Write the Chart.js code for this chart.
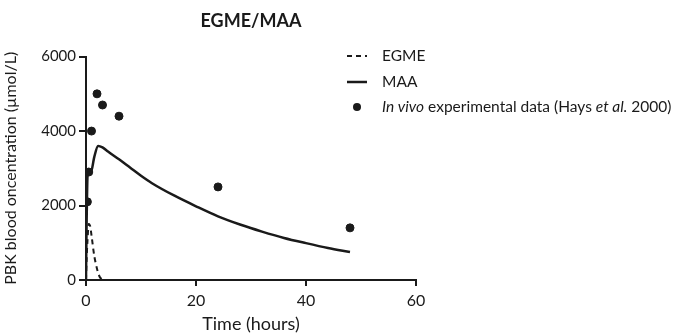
<!DOCTYPE html>
<html>
<head>
<meta charset="utf-8">
<script src="https://cdn.jsdelivr.net/npm/chart.js@4"></script>
<style>
    html, body { margin: 0; padding: 0; background: #fff; }
    #wrap { width: 673px; height: 335px; position: relative; }
</style>
</head>
<body>
<div id="wrap"><canvas id="chartEgme"></canvas></div>
<script>
// tiempos (h) y concentraciones (µmol/L)
const egmeTime = [0, 0.1, 0.25, 0.5, 0.75, 1, 1.5, 2, 2.5, 3, 3.5];
const egmeConc = [0, 500, 1000, 1500, 1450, 1200, 650, 300, 80, 10, 0];

const maaTime = [0, 0.1, 0.3, 0.6, 0.9, 1.5, 2.2, 3, 4, 6, 8, 10, 12, 16, 20, 24, 28, 32, 36, 40, 44, 48];
const maaConc = [0, 1400, 2850, 2900, 2900, 3300, 3600, 3560, 3450, 3240, 3020, 2800, 2600, 2270, 1980, 1710, 1490, 1300, 1130, 990, 860, 750];

const obsTime = [0.25, 0.5, 1, 2, 3, 6, 24, 48];
const obsConc = [2100, 2900, 4000, 5000, 4700, 4400, 2500, 1400];

const xTicks = [0, 20, 40, 60];
const yTicks = [0, 2000, 4000, 6000];

const FONT = "Lato, 'Open Sans', sans-serif";
const INK = "#1a1a1a";

const toXY = (xs, ys) => xs.map((x, i) => ({ x: x, y: ys[i] }));

// Leyenda propia: permite cursiva dentro de la etiqueta (*...*)
const richLegend = {
    id: "richLegend",
    afterDraw(chart) {
        const ctx = chart.ctx;
        const x0 = 347, lineW = 20, textX = 382;
        const rows = [56, 82, 107];
        ctx.save();
        chart.data.datasets.forEach((ds, i) => {
            const y = rows[i];
            ctx.strokeStyle = ds.borderColor;
            ctx.fillStyle = ds.backgroundColor;
            if (ds.type === "scatter") {
                ctx.beginPath();
                ctx.arc(x0 + lineW / 2, y, 4, 0, Math.PI * 2);
                ctx.fill();
            } else {
                ctx.lineWidth = ds.borderWidth;
                ctx.setLineDash(ds.borderDash || []);
                ctx.beginPath();
                ctx.moveTo(x0, y);
                ctx.lineTo(x0 + lineW, y);
                ctx.stroke();
                ctx.setLineDash([]);
            }
            // texto con tramos en cursiva
            let x = textX;
            ctx.fillStyle = INK;
            ctx.textBaseline = "middle";
            ds.label.split("*").forEach((part, k) => {
                ctx.font = (k % 2 ? "italic " : "") + "15.5px " + FONT;
                ctx.fillText(part, x, y);
                x += ctx.measureText(part).width;
            });
        });
        ctx.restore();
    }
};

new Chart(document.getElementById("chartEgme"), {
    data: {
        datasets: [
            {
                type: "line",
                label: "EGME",
                data: toXY(egmeTime, egmeConc),
                borderColor: INK,
                backgroundColor: INK,
                borderWidth: 2,
                borderDash: [5, 4],
                pointRadius: 0,
                tension: 0.3
            },
            {
                type: "line",
                label: "MAA",
                data: toXY(maaTime, maaConc),
                borderColor: INK,
                backgroundColor: INK,
                borderWidth: 2.5,
                pointRadius: 0,
                cubicInterpolationMode: "monotone"
            },
            {
                type: "scatter",
                label: "*In vivo* experimental data (Hays *et al.* 2000)",
                data: toXY(obsTime, obsConc),
                borderColor: INK,
                backgroundColor: INK,
                pointRadius: 4,
                pointHoverRadius: 4
            }
        ]
    },
    options: {
        responsive: true,
        maintainAspectRatio: false,
        animation: false,
        layout: { padding: { top: 0, right: 257, bottom: 0, left: 0 } },
        plugins: {
            legend: { display: false },
            tooltip: { enabled: false },
            title: {
                display: true,
                text: "EGME/MAA",
                color: INK,
                font: { family: FONT, size: 18, weight: "bold" },
                padding: { top: 10, bottom: 25 },
                fullSize: false
            }
        },
        scales: {
            x: {
                type: "linear",
                min: 0,
                max: 60,
                afterBuildTicks: s => { s.ticks = xTicks.map(v => ({ value: v })); },
                afterFit: s => { s.height = 55; },
                ticks: { color: INK, font: { family: FONT, size: 16 }, padding: 5, callback: v => String(v) },
                grid: { drawOnChartArea: false, drawTicks: true, tickLength: 6, color: INK, lineWidth: 2 },
                border: { color: INK, width: 2 },
                title: {
                    display: true,
                    text: "Time (hours)",
                    color: INK,
                    font: { family: FONT, size: 18 },
                    padding: { top: 3, bottom: 0 }
                }
            },
            y: {
                type: "linear",
                min: 0,
                max: 6000,
                afterBuildTicks: s => { s.ticks = yTicks.map(v => ({ value: v })); },
                afterFit: s => { s.width = 86; },
                ticks: { color: INK, font: { family: FONT, size: 15 }, padding: 3, callback: v => String(v) },
                grid: { drawOnChartArea: false, drawTicks: true, tickLength: 7, color: INK, lineWidth: 2 },
                border: { color: INK, width: 2 },
                title: {
                    display: true,
                    text: "PBK blood oncentration (µmol/L)",
                    color: INK,
                    font: { family: FONT, size: 16 },
                    padding: { top: 1, bottom: 0 }
                }
            }
        }
    },
    plugins: [richLegend]
});
</script>
</body>
</html>
